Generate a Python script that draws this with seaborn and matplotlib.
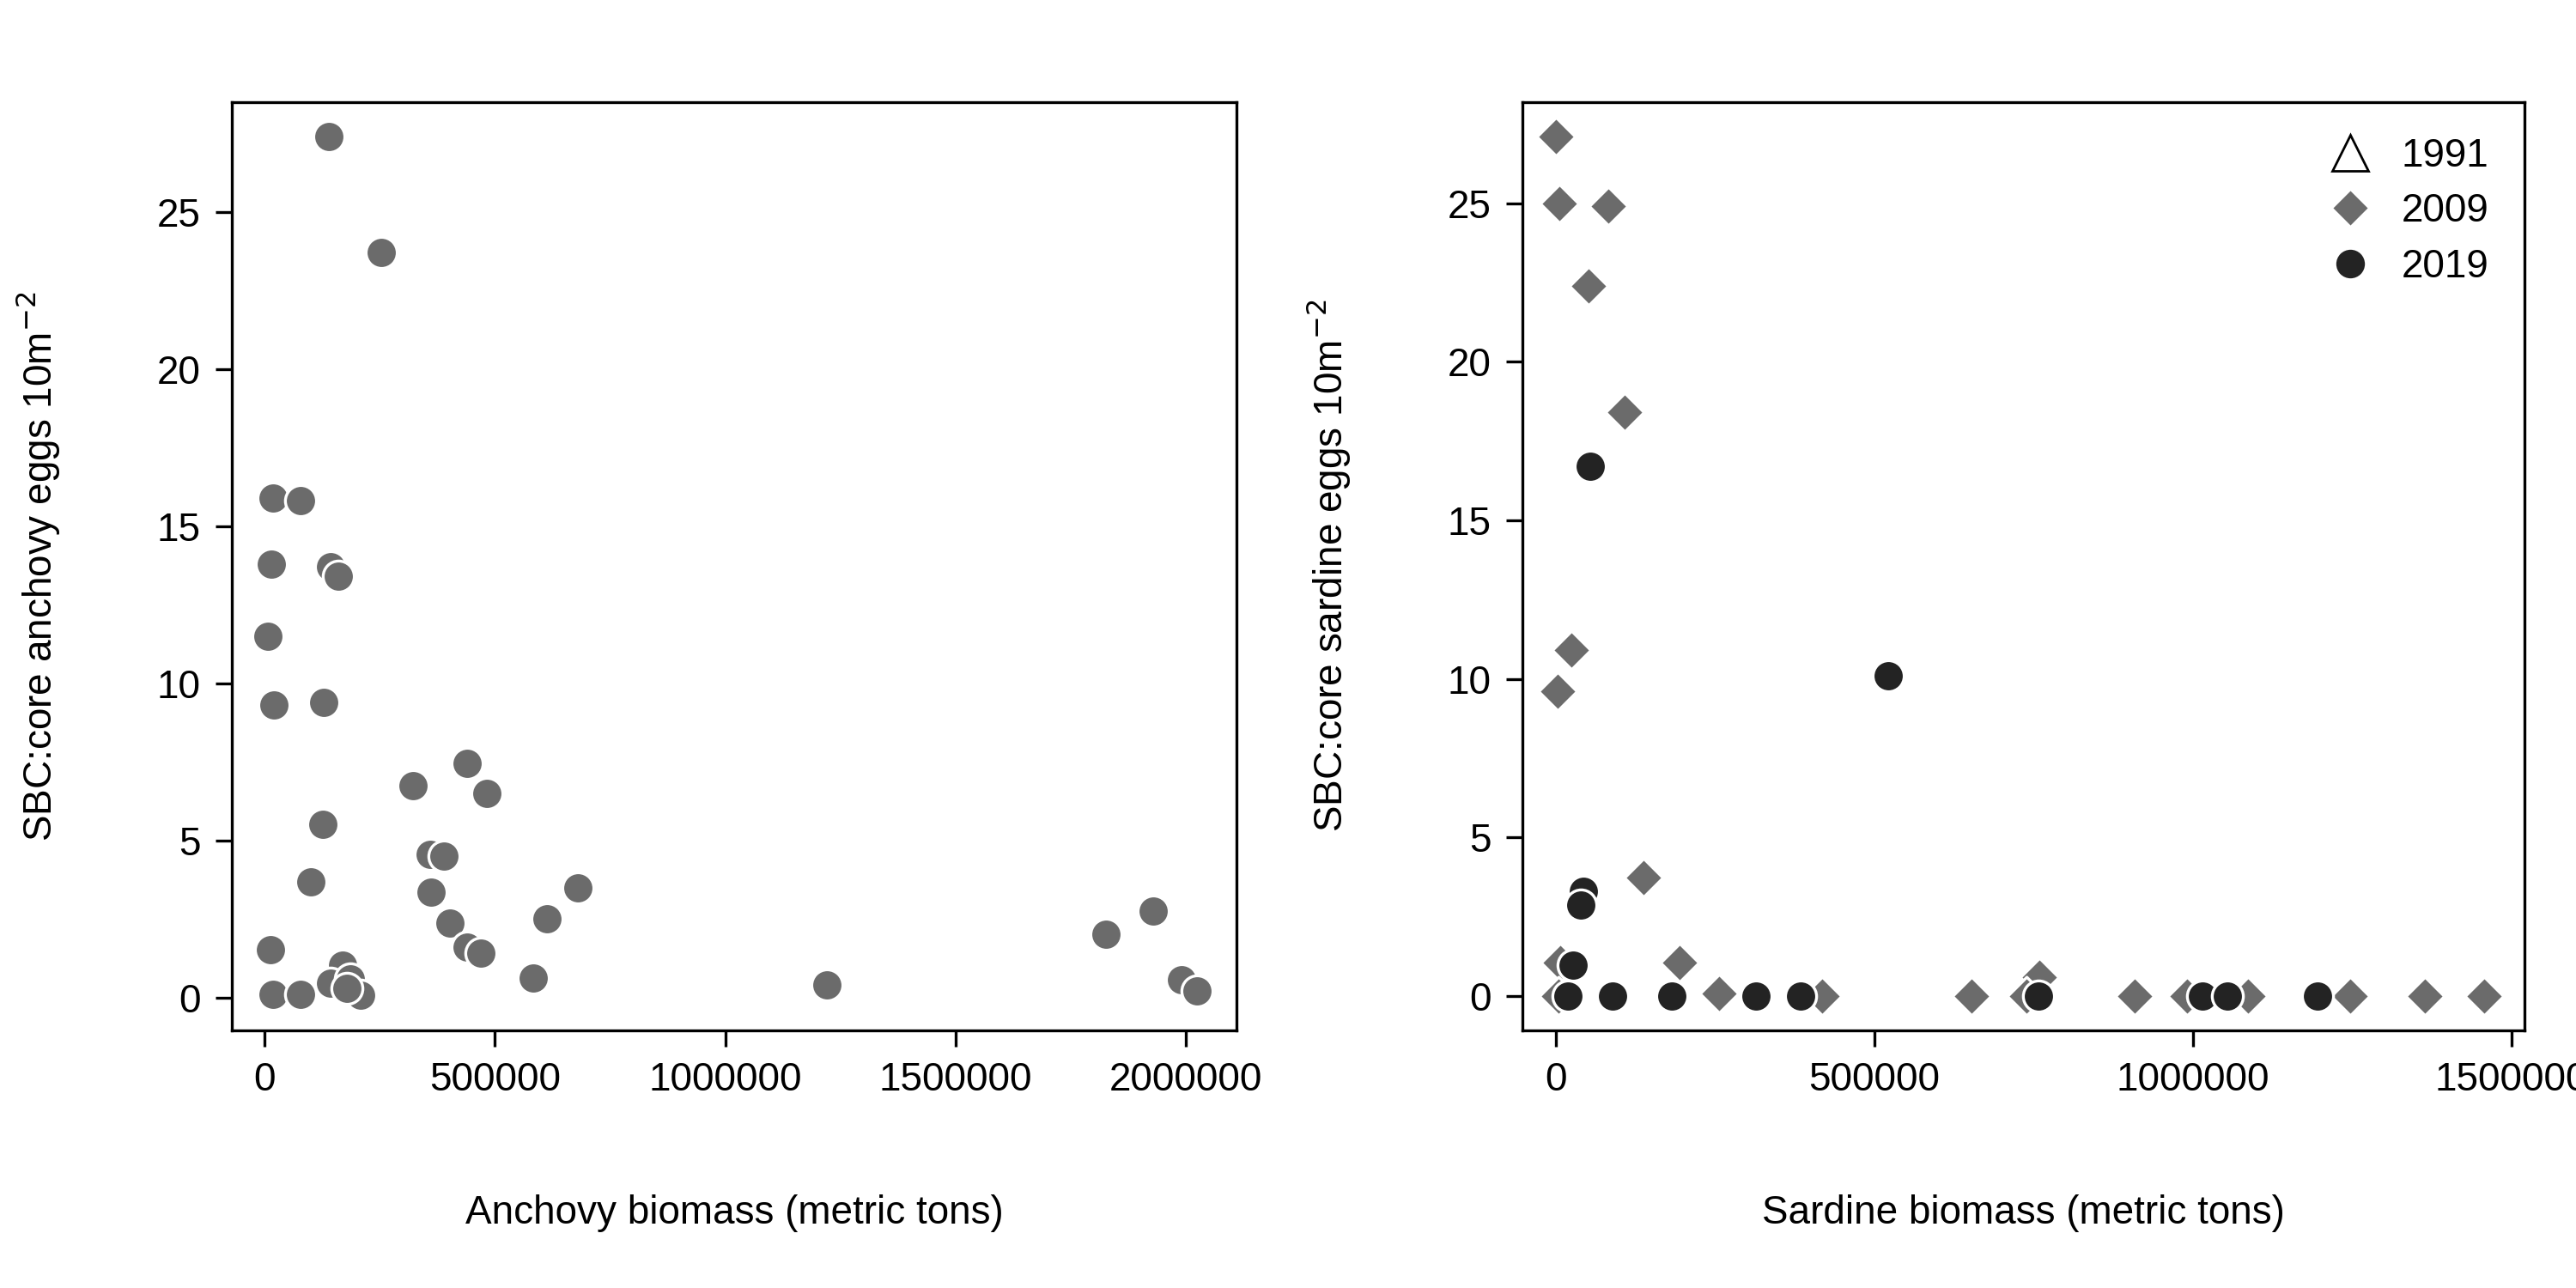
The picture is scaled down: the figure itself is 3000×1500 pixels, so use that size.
import matplotlib
matplotlib.use("Agg")
import matplotlib.pyplot as plt
import seaborn as sns
from matplotlib.lines import Line2D

sns.set_theme(style="white")
plt.rcParams['font.family'] = ['Liberation Sans', 'DejaVu Sans']
plt.rcParams['text.color'] = 'black'
plt.rcParams['axes.labelcolor'] = 'black'
plt.rcParams['xtick.color'] = 'black'
plt.rcParams['ytick.color'] = 'black'

# Left panel: anchovy
anch_biomass = [139e3, 254e3, 18e3, 78e3, 14e3, 143e3, 161e3, 7e3, 21e3, 128e3,
                439e3, 323e3, 482e3, 127e3, 359e3, 390e3, 100e3, 361e3, 681e3, 403e3,
                614e3, 13e3, 439e3, 469e3, 170e3, 583e3, 1221e3, 1826e3, 1929e3,
                19e3, 78e3, 144e3, 187e3, 209e3, 179e3, 1990e3, 2025e3]
anch_eggs = [27.4, 23.7, 15.9, 15.8, 13.8, 13.7, 13.4, 11.5, 9.3, 9.4,
             7.45, 6.74, 6.5, 5.5, 4.54, 4.5, 3.67, 3.35, 3.48, 2.36,
             2.5, 1.52, 1.6, 1.41, 1.04, 0.63, 0.41, 2.0, 2.74,
             0.1, 0.1, 0.46, 0.58, 0.08, 0.3, 0.55, 0.2]

# Right panel: sardine by year
sar91_biomass = [5e3, 740e3, 900e3]
sar91_eggs = [0.05, 0.05, 0.1]
sar09_biomass = [0, 6e3, 83e3, 52e3, 108e3, 25e3, 3e3, 138e3, 7e3, 194e3, 4e3, 257e3,
                 418e3, 653e3, 759e3, 739e3, 909e3, 990e3, 1086e3, 1247e3, 1364e3, 1457e3]
sar09_eggs = [27.1, 25.0, 24.9, 22.4, 18.4, 10.9, 9.6, 3.72, 1.06, 1.04, 0.0, 0.07,
              0.0, 0.0, 0.6, 0.0, 0.0, 0.0, 0.0, 0.0, 0.0, 0.0]
sar19_biomass = [55e3, 522e3, 43e3, 39e3, 27e3, 20e3, 90e3, 183e3, 315e3, 384e3,
                 757e3, 1015e3, 1054e3, 1195e3]
sar19_eggs = [16.7, 10.1, 3.3, 2.87, 0.98, 0.0, 0.0, 0.0, 0.0, 0.0, 0.0, 0.0, 0.0, 0.0]

GRAY = "#6b6b6b"
DARK = "#232323"

fig = plt.figure(figsize=(15, 7.5), dpi=200)
ax1 = fig.add_axes([0.090, 0.200, 0.390, 0.721])
ax2 = fig.add_axes([0.591, 0.200, 0.389, 0.721])

sns.scatterplot(x=anch_biomass, y=anch_eggs, ax=ax1, color=GRAY, marker="o",
                s=170, edgecolor="white", linewidth=1.2)

sns.scatterplot(x=sar91_biomass, y=sar91_eggs, ax=ax2, marker="^", s=200,
                facecolor="none", edgecolor="white", linewidth=1.2)
sns.scatterplot(x=sar09_biomass, y=sar09_eggs, ax=ax2, color=GRAY, marker="D",
                s=130, edgecolor="white", linewidth=1.2)
sns.scatterplot(x=sar19_biomass, y=sar19_eggs, ax=ax2, color=DARK, marker="o",
                s=170, edgecolor="white", linewidth=1.2)

ax1.set_xlim(-71e3, 2110e3)
ax1.set_ylim(-1.05, 28.5)
ax2.set_xlim(-52e3, 1520e3)
ax2.set_ylim(-1.09, 28.2)

fs = 16.5
for ax in (ax1, ax2):
    for s in ax.spines.values():
        s.set_visible(True)
        s.set_color("black")
        s.set_linewidth(1.2)
    ax.tick_params(axis="both", direction="out", length=7, width=1.2,
                   labelsize=fs, color="black", bottom=True, left=True, pad=6)
    ax.set_yticks([0, 5, 10, 15, 20, 25])
    ax.xaxis.labelpad = 40
    ax.yaxis.labelpad = 40

ax1.set_xticks([0, 500000, 1000000, 1500000, 2000000])
ax1.set_xticklabels(["0", "500000", "1000000", "1500000", "2000000"])
ax2.set_xticks([0, 500000, 1000000, 1500000])
ax2.set_xticklabels(["0", "500000", "1000000", "1500000"])

ax1.set_xlabel("Anchovy biomass (metric tons)", fontsize=fs)
ax1.set_ylabel("SBC:core anchovy eggs 10m$^{-2}$", fontsize=fs)
ax2.set_xlabel("Sardine biomass (metric tons)", fontsize=fs)
ax2.set_ylabel("SBC:core sardine eggs 10m$^{-2}$", fontsize=fs)

handles = [
    Line2D([], [], linestyle="none", marker="^", markersize=15, markerfacecolor="white",
           markeredgecolor="black", markeredgewidth=1.0, label="1991"),
    Line2D([], [], linestyle="none", marker="D", markersize=11, markerfacecolor=GRAY,
           markeredgecolor="white", label="2009"),
    Line2D([], [], linestyle="none", marker="o", markersize=13, markerfacecolor=DARK,
           markeredgecolor="white", label="2019"),
]
ax2.legend(handles=handles, loc="upper right", frameon=False, fontsize=fs,
           handletextpad=0.3, labelspacing=0.45, borderaxespad=0.5)

fig.savefig("out.png", dpi=200)
